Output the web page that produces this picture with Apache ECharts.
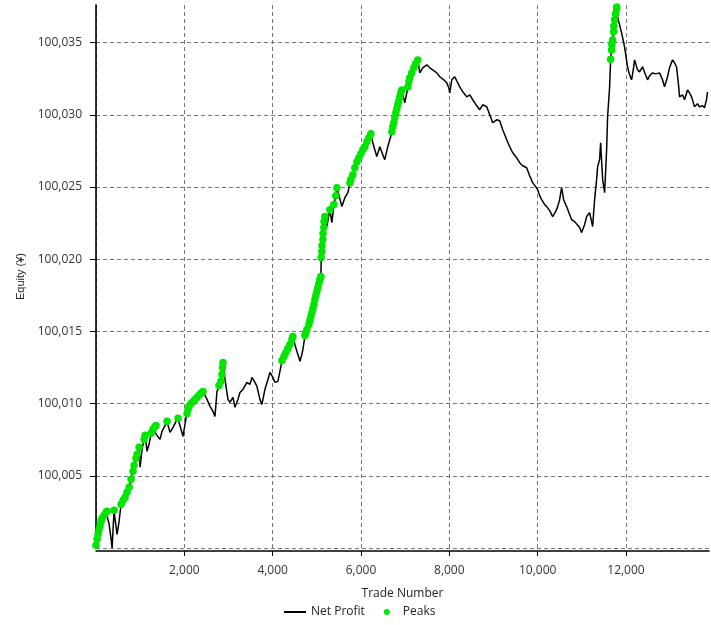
<!DOCTYPE html>
<html>
<head>
<meta charset="utf-8">
<script src="https://cdn.jsdelivr.net/npm/echarts@6/dist/echarts.min.js"></script>
<style>
html,body{margin:0;padding:0;background:#fff;}
#chart{width:711px;height:625px;}
</style>
</head>
<body>
<div id="chart"></div>
<script>
// Net Profit line: trade number and equity
const trades = [0,48,93,138,183,228,251,296,342,364,387,409,432,477,523,568,613,658,703,749,794,839,884,930,975,998,1043,1088,1111,1156,1201,1246,1292,1337,1382,1450,1495,1563,1608,1676,1744,1812,1857,1925,1970,2015,2061,2129,2196,2242,2287,2355,2423,2468,2513,2581,2649,2694,2739,2807,2852,2875,2920,2988,3033,3101,3146,3214,3260,3327,3418,3486,3531,3599,3644,3712,3757,3825,3893,3938,4006,4051,4119,4164,4210,4277,4345,4413,4458,4503,4549,4594,4617,4662,4685,4730,4775,4821,4866,4911,4956,5001,5047,5092,5100,5114,5137,5160,5182,5227,5273,5295,5341,5386,5431,5454,5499,5567,5635,5703,5749,5816,5884,5952,6019,6087,6155,6223,6268,6313,6358,6426,6494,6539,6607,6652,6698,6743,6788,6833,6879,6924,6992,7037,7060,7105,7173,7241,7286,7331,7399,7490,7558,7625,7716,7784,7874,7942,7988,8010,8056,8123,8191,8237,8305,8395,8463,8531,8621,8689,8757,8848,8915,8983,9073,9141,9209,9300,9367,9435,9525,9593,9661,9751,9819,9887,9955,10000,10046,10091,10159,10204,10272,10340,10407,10453,10498,10543,10589,10656,10724,10769,10837,10882,10950,10996,11063,11109,11176,11222,11245,11290,11335,11358,11403,11426,11472,11517,11562,11584,11630,11652,11675,11697,11720,11742,11765,11788,11810,11855,11901,11968,12036,12081,12127,12172,12194,12262,12308,12375,12443,12489,12534,12602,12670,12760,12828,12873,12941,12986,13054,13099,13145,13190,13213,13281,13326,13394,13439,13485,13552,13620,13665,13733,13778,13823,13846];
const equity = [100000.06,100000.61,100001.16,100001.65,100002.13,100002.48,100002.55,100001.65,100000.61,100000.00,100001.30,100002.62,100001.99,100000.95,100001.85,100003.03,100003.31,100003.51,100003.86,100004.20,100004.89,100005.45,100006.00,100006.49,100006.97,100005.59,100006.83,100007.52,100007.80,100006.69,100007.18,100007.87,100008.22,100008.35,100007.80,100007.52,100008.08,100008.49,100008.77,100008.01,100008.35,100008.77,100008.91,100008.22,100007.73,100008.56,100009.39,100009.94,100010.15,100010.29,100010.43,100010.64,100010.84,100010.57,100010.29,100009.81,100009.46,100009.11,100010.84,100011.33,100011.67,100012.85,100011.67,100010.29,100010.08,100010.43,100009.74,100010.29,100010.77,100010.98,100011.47,100011.33,100011.81,100011.47,100011.19,100010.29,100009.94,100010.98,100011.67,100012.16,100011.81,100011.47,100011.54,100011.67,100012.92,100013.40,100013.75,100014.09,100014.65,100014.09,100013.61,100013.19,100012.92,100013.40,100013.75,100014.65,100015.00,100015.48,100015.96,100016.51,100017.21,100017.76,100018.38,100018.80,100020.12,100021.01,100021.91,100022.74,100022.95,100022.26,100023.09,100023.43,100022.53,100023.78,100024.47,100024.95,100024.47,100023.64,100024.26,100024.61,100025.30,100025.85,100026.54,100027.03,100027.44,100027.72,100028.27,100028.69,100028.06,100027.58,100027.10,100027.79,100027.23,100026.89,100027.79,100028.27,100028.76,100029.45,100030.14,100030.69,100031.24,100031.72,100030.82,100031.52,100031.93,100032.56,100033.11,100033.53,100033.80,100032.90,100033.25,100033.46,100033.25,100033.11,100032.90,100032.63,100032.42,100032.21,100031.87,100031.52,100032.42,100032.63,100032.21,100031.93,100031.59,100031.24,100031.38,100031.04,100030.62,100030.35,100030.69,100030.55,100030.00,100029.45,100029.65,100029.58,100028.96,100028.27,100027.79,100027.37,100027.02,100026.68,100026.47,100026.33,100025.78,100025.30,100025.02,100024.81,100024.40,100024.12,100023.78,100023.64,100023.36,100022.95,100023.29,100023.64,100024.12,100024.95,100024.12,100023.64,100023.09,100022.74,100022.60,100022.53,100022.19,100021.84,100022.39,100022.95,100023.22,100022.60,100022.26,100024.12,100025.50,100026.40,100026.89,100028.06,100025.50,100024.61,100027.58,100029.86,100031.93,100033.80,100034.63,100035.20,100035.90,100036.60,100037.00,100037.47,100036.78,100036.22,100035.67,100034.70,100033.32,100032.77,100032.42,100033.25,100033.80,100033.11,100032.97,100033.32,100032.77,100032.42,100032.70,100032.90,100032.83,100032.90,100032.42,100031.93,100032.63,100033.25,100033.80,100033.60,100033.32,100032.07,100031.24,100031.38,100031.04,100031.72,100031.52,100031.24,100030.55,100030.76,100030.55,100030.62,100030.48,100031.04,100031.59];

// Peaks: new equity highs
const peakTrades = [0,25,48,70,93,115,138,183,228,251,409,568,613,658,703,749,794,839,862,907,930,975,1088,1111,1246,1292,1337,1359,1608,1857,2061,2083,2106,2151,2196,2242,2287,2332,2377,2423,2784,2830,2852,2864,2875,4210,4255,4300,4345,4390,4436,4458,4730,4753,4775,4821,4843,4866,4888,4911,4934,4956,4979,5001,5024,5047,5069,5092,5098,5114,5118,5137,5140,5160,5163,5182,5295,5386,5431,5454,5749,5771,5816,5861,5907,5952,5997,6042,6087,6133,6178,6223,6698,6720,6743,6765,6788,6811,6833,6856,6879,6901,6924,7060,7083,7105,7150,7196,7241,7286,11652,11675,11680,11697,11720,11725,11742,11765,11788,11792];
const peakEquity = [100000.19,100000.61,100000.95,100001.30,100001.58,100001.85,100002.06,100002.27,100002.48,100002.55,100002.62,100003.03,100003.31,100003.51,100003.86,100004.20,100004.76,100005.31,100005.73,100006.21,100006.49,100006.97,100007.52,100007.80,100007.94,100008.22,100008.42,100008.49,100008.77,100008.98,100009.32,100009.60,100009.81,100010.01,100010.15,100010.29,100010.43,100010.57,100010.71,100010.84,100011.26,100011.54,100012.02,100012.50,100012.85,100012.99,100013.26,100013.54,100013.82,100014.09,100014.44,100014.65,100014.72,100014.93,100015.13,100015.48,100015.75,100016.03,100016.31,100016.58,100016.86,100017.21,100017.48,100017.76,100018.04,100018.31,100018.59,100018.80,100020.11,100020.53,100020.94,100021.36,100021.77,100022.19,100022.60,100022.95,100023.43,100023.78,100024.40,100024.95,100025.30,100025.51,100025.85,100026.33,100026.75,100027.02,100027.30,100027.58,100027.79,100028.13,100028.41,100028.69,100028.83,100029.17,100029.45,100029.79,100030.14,100030.41,100030.69,100030.96,100031.24,100031.52,100031.72,100031.93,100032.28,100032.56,100032.90,100033.25,100033.53,100033.80,100033.85,100034.49,100034.84,100035.18,100035.74,100036.15,100036.57,100036.99,100037.33,100037.47];

// Axis scales
const xMin = 0, xMax = 13880, xStep = 2000;
const yMin = 100000, yMax = 100037.6, yStep = 5;
const seriesNames = ['Net Profit', 'Peaks'];
const axisNames = {x: 'Trade Number', y: 'Equity (¥)'};

const chart = echarts.init(document.getElementById('chart'), null, {renderer: 'canvas'});
const labelFont = {color: '#333', fontFamily: 'Open Sans', fontSize: 12};
const gridLine = {show: true, showMaxLine: false, lineStyle: {color: '#777', type: [4, 3], width: 1}};

chart.setOption({
  animation: false,
  backgroundColor: '#fff',
  grid: {left: 96, right: 2, top: 5, bottom: 77},
  legend: {
    data: [
      {name: seriesNames[0], itemStyle: {opacity: 0}},
      {name: seriesNames[1]}
    ],
    top: 606, left: 283,
    itemWidth: 22, itemHeight: 6, itemGap: 19, padding: 0,
    textStyle: {color: '#222', fontFamily: 'Open Sans', fontSize: 12}
  },
  xAxis: {
    type: 'value', min: xMin, max: xMax, interval: xStep, offset: 3,
    name: axisNames.x, nameLocation: 'middle', nameGap: 37,
    nameTextStyle: {color: '#222', fontFamily: 'Open Sans', fontSize: 12},
    axisLine: {show: true, onZero: false, lineStyle: {color: '#000', width: 1.6}},
    axisTick: {show: true, length: 5, lineStyle: {color: '#000', width: 1}},
    axisLabel: Object.assign({showMinLabel: false, showMaxLabel: false, margin: 14}, labelFont),
    splitLine: gridLine
  },
  yAxis: {
    type: 'value', min: yMin, max: yMax, interval: yStep,
    name: axisNames.y, nameLocation: 'middle', nameGap: 62,
    nameTextStyle: {color: '#222', fontFamily: 'Liberation Sans', fontSize: 11},
    axisLine: {show: true, onZero: false, lineStyle: {color: '#000', width: 1.6}},
    axisTick: {show: true, length: 6, lineStyle: {color: '#000', width: 1}},
    axisLabel: Object.assign({showMinLabel: false, showMaxLabel: false, margin: 14}, labelFont),
    splitLine: gridLine
  },
  series: [
    {
      name: seriesNames[0], type: 'line', symbol: 'none', showSymbol: false,
      data: trades.map((t, i) => [t, equity[i]]),
      lineStyle: {color: '#000', width: 1.5}, itemStyle: {color: '#000'}, z: 2
    },
    {
      name: seriesNames[1], type: 'scatter', symbol: 'circle', symbolSize: 7.5,
      data: peakTrades.map((t, i) => [t, peakEquity[i]]),
      itemStyle: {color: '#00e600', opacity: 1}, z: 3
    }
  ]
});
</script>
</body>
</html>
